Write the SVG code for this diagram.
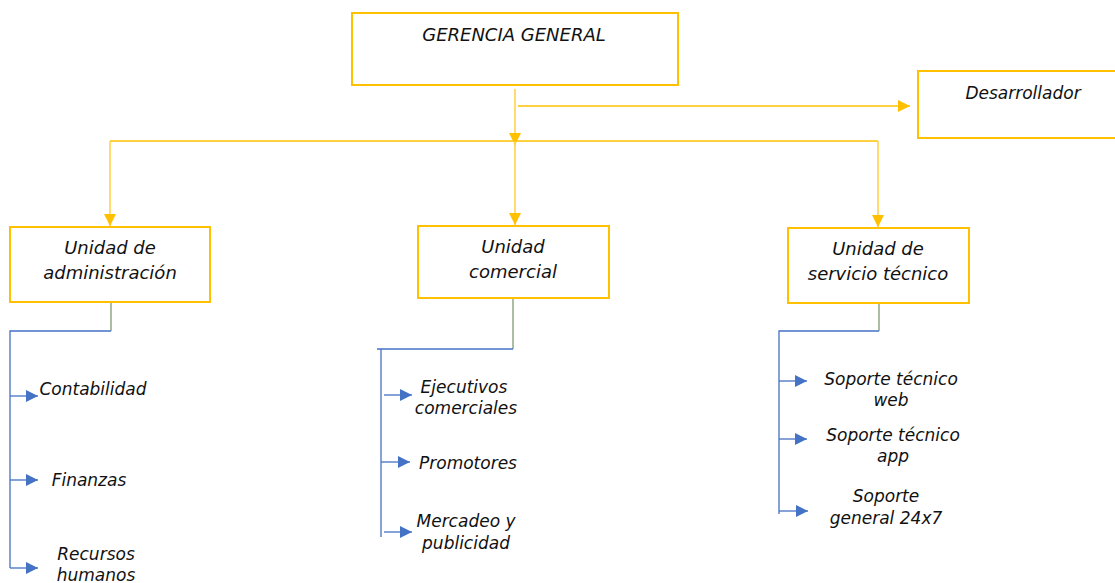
<svg xmlns="http://www.w3.org/2000/svg" width="1115" height="583" viewBox="0 0 1115 583">
<style>
.box{fill:#fff;stroke:#FFC000;stroke-width:2}
.t{font-family:"DejaVu Sans",sans-serif;font-style:italic;fill:#111;text-anchor:middle}
.h{font-size:18px}
.c{font-size:17px}
.y{stroke:#FFC000;stroke-width:1.3;fill:none}
.yv{stroke:#FFD24D;stroke-width:1.6;fill:none}
.g{stroke:#7F9A72;stroke-width:1.3;fill:none}
.b{stroke:#4472C4;stroke-width:1.3;fill:none}
</style>
<defs>
<marker id="ay" viewBox="0 0 10 10" refX="10" refY="5" markerUnits="userSpaceOnUse" markerWidth="12" markerHeight="12" orient="auto"><path d="M0,0L10,5L0,10z" fill="#FFC000"/></marker>
<marker id="ab" viewBox="0 0 10 10" refX="10" refY="5" markerUnits="userSpaceOnUse" markerWidth="12" markerHeight="12" orient="auto"><path d="M0,0L10,5L0,10z" fill="#4472C4"/></marker>
</defs>
<rect width="1115" height="583" fill="#fff"/>
<g id="connectors">
<path class="yv" d="M515,89V145" marker-end="url(#ay)"/>
<path class="y" d="M518,106H910" marker-end="url(#ay)"/>
<path class="y" d="M110,141H878"/>
<path class="yv" d="M110,141V226" marker-end="url(#ay)"/>
<path class="yv" d="M515,141V225" marker-end="url(#ay)"/>
<path class="yv" d="M878,141V227" marker-end="url(#ay)"/>
<path class="g" d="M111,303V331"/>
<path class="b" d="M111,331H10V568"/>
<path class="b" d="M10,396H38" marker-end="url(#ab)"/>
<path class="b" d="M10,480H38" marker-end="url(#ab)"/>
<path class="b" d="M10,568H38" marker-end="url(#ab)"/>
<path class="g" d="M513,299V349"/>
<path class="b" d="M513,349H377"/>
<path class="b" d="M381,349V537"/>
<path class="b" d="M384,395H412" marker-end="url(#ab)"/>
<path class="b" d="M381,462H410" marker-end="url(#ab)"/>
<path class="b" d="M384,532H412" marker-end="url(#ab)"/>
<path class="g" d="M879,304V331"/>
<path class="b" d="M879,331H779V514"/>
<path class="b" d="M779,381H807" marker-end="url(#ab)"/>
<path class="b" d="M779,439H807" marker-end="url(#ab)"/>
<path class="b" d="M779,511H808" marker-end="url(#ab)"/>
</g>
<g id="gerencia"><rect class="box" x="352" y="13" width="326" height="72"/><text class="t h" x="514" y="41" font-size="18.6">GERENCIA GENERAL</text></g>
<g id="desarrollador"><rect class="box" x="918" y="71" width="200" height="67"/><text class="t c" x="1023" y="99">Desarrollador</text></g>
<g id="u-admin"><rect class="box" x="10" y="227" width="200" height="75"/><text class="t h" x="110" y="254">Unidad de</text><text class="t h" x="110" y="279">administración</text></g>
<g id="u-comercial"><rect class="box" x="418" y="226" width="191" height="72"/><text class="t h" x="513" y="253">Unidad</text><text class="t h" x="513" y="278">comercial</text></g>
<g id="u-servicio"><rect class="box" x="788" y="228" width="181" height="75"/><text class="t h" x="878" y="255">Unidad de</text><text class="t h" x="878" y="280">servicio técnico</text></g>
<g id="contabilidad"><text class="t c" x="93" y="395">Contabilidad</text></g>
<g id="finanzas"><text class="t c" x="89" y="486">Finanzas</text></g>
<g id="rrhh"><text class="t c" x="96" y="560">Recursos</text><text class="t c" x="96" y="581">humanos</text></g>
<g id="ejecutivos"><text class="t c" x="464" y="393">Ejecutivos</text><text class="t c" x="466" y="414">comerciales</text></g>
<g id="promotores"><text class="t c" x="468" y="469">Promotores</text></g>
<g id="mercadeo"><text class="t c" x="466" y="527">Mercadeo y</text><text class="t c" x="466" y="549">publicidad</text></g>
<g id="soporte-web"><text class="t c" x="891" y="385">Soporte técnico</text><text class="t c" x="891" y="406">web</text></g>
<g id="soporte-app"><text class="t c" x="893" y="441">Soporte técnico</text><text class="t c" x="893" y="462">app</text></g>
<g id="soporte-general"><text class="t c" x="886" y="502">Soporte</text><text class="t c" x="886" y="524">general 24x7</text></g>
</svg>
